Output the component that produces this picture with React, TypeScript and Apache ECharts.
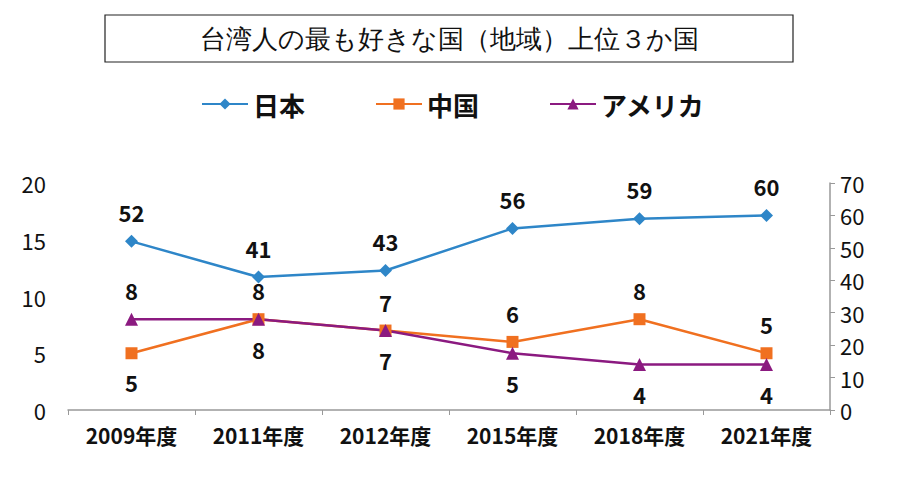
import { useRef, useEffect } from "react";
import * as echarts from "echarts";

const YEARS = ["2009年度", "2011年度", "2012年度", "2015年度", "2018年度", "2021年度"];
const JAPAN = [52, 41, 43, 56, 59, 60];
const CHINA = [5, 8, 7, 6, 8, 5];
const USA = [8, 8, 7, 5, 4, 4];
const CHINA_POS = ["bottom", "top", "top", "top", "top", "top"];
const USA_POS = ["top", "bottom", "bottom", "bottom", "bottom", "bottom"];

const FONT = "'Noto Sans CJK JP', 'Noto Sans', sans-serif";

export default function App() {
  const ref = useRef<HTMLDivElement>(null);

  useEffect(() => {
    if (!ref.current) return;
    const chart = echarts.init(ref.current, null, { renderer: "svg" });
    const lbl = { show: true, fontSize: 22, fontWeight: "bold", color: "#111", fontFamily: FONT, distance: 12 };
    chart.setOption({
      animation: false,
      backgroundColor: "#fff",
      textStyle: { fontFamily: FONT },
      graphic: [
        { type: "rect", shape: { x: 97, y: 7, width: 688, height: 47 }, style: { fill: "#fff", stroke: "#222", lineWidth: 1.2 } },
        { type: "text", x: 441, y: 31, style: { text: "台湾人の最も好きな国（地域）上位３か国", fontSize: 26, fill: "#111", font: `26px ${FONT}`, align: "center", verticalAlign: "middle" } },
      ],
      legend: {
        top: 78, left: "center", itemGap: 70, itemWidth: 46, itemHeight: 14,
        textStyle: { fontSize: 26, fontWeight: "bold", color: "#111", fontFamily: FONT },
        data: ["日本", "中国", "アメリカ"],
      },
      grid: { left: 60, right: 68, top: 175, bottom: 60 },
      xAxis: {
        type: "category", data: YEARS,
        axisLine: { lineStyle: { color: "#999", width: 1.5 } },
        axisTick: { show: true, lineStyle: { color: "#999" } },
        axisLabel: { fontSize: 21, fontWeight: "bold", color: "#111", margin: 14 },
      },
      yAxis: [
        {
          type: "value", min: 0, max: 20, interval: 5,
          axisLine: { show: false }, splitLine: { show: false },
          axisLabel: { fontSize: 22, color: "#111", margin: 22 },
        },
        {
          type: "value", min: 0, max: 70, interval: 10, position: "right",
          axisLine: { show: true, lineStyle: { color: "#999", width: 1.5 } },
          axisTick: { show: true, lineStyle: { color: "#999" } }, splitLine: { show: false },
          axisLabel: { fontSize: 22, color: "#111", margin: 10 },
        },
      ],
      series: [
        {
          name: "日本", type: "line", yAxisIndex: 1, data: JAPAN,
          symbol: "diamond", symbolSize: 13,
          lineStyle: { color: "#2e86c8", width: 2.5 }, itemStyle: { color: "#2e86c8" },
          label: { ...lbl, position: "top" },
        },
        {
          name: "中国", type: "line", yAxisIndex: 0,
          data: CHINA.map((v, i) => ({ value: v, label: { position: CHINA_POS[i] } })),
          symbol: "rect", symbolSize: 12,
          lineStyle: { color: "#f07020", width: 2.5 }, itemStyle: { color: "#f07020" },
          label: lbl,
        },
        {
          name: "アメリカ", type: "line", yAxisIndex: 0,
          data: USA.map((v, i) => ({ value: v, label: { position: USA_POS[i] } })),
          symbol: "triangle", symbolSize: 13,
          lineStyle: { color: "#8b1a80", width: 2.5 }, itemStyle: { color: "#8b1a80" },
          label: lbl,
        },
      ],
    });
    return () => chart.dispose();
  }, []);

  return <div ref={ref} style={{ width: 890, height: 462 }} />;
}
